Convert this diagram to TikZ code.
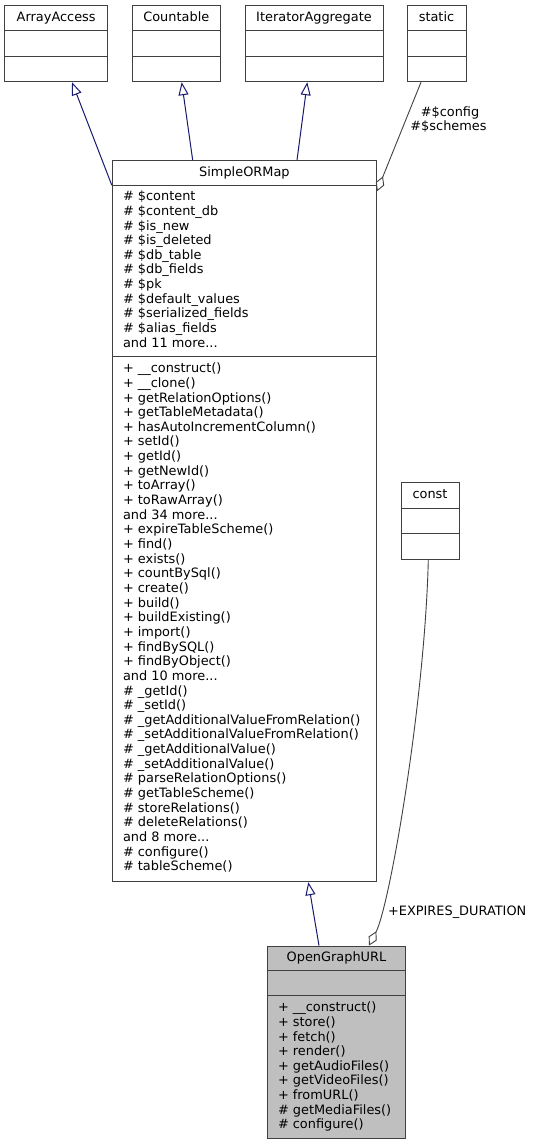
\documentclass[tikz,border=0pt]{standalone}
\usepackage{fontspec}
\setmainfont{DejaVu Sans}
\usetikzlibrary{arrows.meta}
\definecolor{edgeblue}{HTML}{191970}
\definecolor{edgegray}{HTML}{404040}
\definecolor{boxfill}{HTML}{BFBFBF}
\newcommand{\andmore}[1]{and #1 more...}

\begin{document}
\begin{tikzpicture}[x=1pt, y=-1pt,
    classbox/.style={draw=edgegray, line width=1pt, fill=white, inner sep=0pt},
    title/.style={font=\fontsize{12.9}{14.6}\selectfont, inner sep=0pt, text height=9.4pt, text depth=2.6pt},
    member/.style={title, anchor=west},
    inherit/.style={draw=edgeblue, line width=1pt, -{Triangle[open, length=13pt, width=10pt]}},
    aggr/.style={draw=edgegray, line width=0.9pt, -{Diamond[open, length=16pt, width=9pt]}}]
    \useasboundingbox (0,0) rectangle (534,1145);
    \def\dy{14.65} % Line spacing of the member lists
    % Class boxes
    \node[classbox, minimum width=103pt, minimum height=76pt] (aa) at (56.2,43.7) {};
    \node[classbox, minimum width=88pt, minimum height=76pt] (cnt) at (176.3,43.7) {};
    \node[classbox, minimum width=138pt, minimum height=76pt] (itagg) at (314,43.7) {};
    \node[classbox, minimum width=59pt, minimum height=76pt] (stat) at (436.5,43.7) {};
    \node[classbox, minimum width=264.2pt, minimum height=721pt] (sorm) at (244.4,521.2) {};
    \node[classbox, minimum width=58pt, minimum height=76.6pt] (cnst) at (430,521) {};
    \node[classbox, fill=boxfill, minimum width=138.4pt, minimum height=192.3pt] (ogurl) at (336.5,1042.2) {};
    % Section lines and titles
    \foreach \b/\s/\t/\name in {aa/25.6/51/ArrayAccess, cnt/25.6/51/Countable,
        itagg/25.6/51/IteratorAggregate, stat/25.6/51/static, sorm/25/196.6/SimpleORMap,
        cnst/26/51/const, ogurl/25/50/OpenGraphURL} {
        \draw[edgegray, line width=1pt] ([yshift=-\s pt]\b.north west) -- ([yshift=-\s pt]\b.north east);
        \draw[edgegray, line width=1pt] ([yshift=-\t pt]\b.north west) -- ([yshift=-\t pt]\b.north east);
        \node[title] (\b-title) at ([yshift=-12.6pt]\b.north) {\name};
    }
    % Attributes of SimpleORMap
    \foreach \txt [count=\i] in {\# \$content, \# \$content\_db, \# \$is\_new, \# \$is\_deleted,
        \# \$db\_table, \# \$db\_fields, \# \$pk, \# \$default\_values, \# \$serialized\_fields,
        \# \$alias\_fields, \andmore{11}} {
        \node[member] (sa\i) at (122.8,{197.3+\dy*(\i-1)}) {\txt};
    }
    % Methods of SimpleORMap
    \foreach \txt [count=\i] in {+ \_\_construct(), + \_\_clone(), + getRelationOptions(),
        + getTableMetadata(), + hasAutoIncrementColumn(), + setId(), + getId(), + getNewId(),
        + toArray(), + toRawArray(), \andmore{34}, + expireTableScheme(), + find(), + exists(),
        + countBySql(), + create(), + build(), + buildExisting(), + import(), + findBySQL(),
        + findByObject(), \andmore{10}, \# \_getId(), \# \_setId(),
        \# \_getAdditionalValueFromRelation(), \# \_setAdditionalValueFromRelation(),
        \# \_getAdditionalValue(), \# \_setAdditionalValue(), \# parseRelationOptions(),
        \# getTableScheme(), \# storeRelations(), \# deleteRelations(), \andmore{8},
        \# configure(), \# tableScheme()} {
        \node[member] (sm\i) at (122.8,{369.3+\dy*(\i-1)}) {\txt};
    }
    % Methods of OpenGraphURL
    \foreach \txt [count=\i] in {+ \_\_construct(), + store(), + fetch(), + render(),
        + getAudioFiles(), + getVideoFiles(), + fromURL(), \# getMediaFiles(), \# configure()} {
        \node[member] (om\i) at (277.8,{1008.3+\dy*(\i-1)}) {\txt};
    }
    % Inheritance
    \draw[inherit] ([yshift=-25pt]sorm.north west) -- ([xshift=15.8pt]aa.south);
    \draw[inherit] ([xshift=-51.7pt]sorm.north) -- ([xshift=5.4pt]cnt.south);
    \draw[inherit] ([xshift=52.6pt]sorm.north) -- ([xshift=-6.7pt]itagg.south);
    \draw[inherit] ([xshift=-17.5pt]ogurl.north) -- ([xshift=63.9pt]sorm.south);
    % Aggregation
    \draw[aggr] ([xshift=-15.5pt]stat.south) -- ([yshift=-31pt]sorm.north east);
    \node[title] (cfg) at (450,112.7) {\#\$config};
    \node[title] (sch) at (448.5,127) {\#\$schemes};
    \draw[aggr] ([xshift=-1.7pt]cnst.south) .. controls (425,700) and (390,905) .. ([xshift=32.5pt]ogurl.north);
    \node[title] (exp) at (457.2,912.3) {+EXPIRES\_DURATION};
\end{tikzpicture}
\end{document}
